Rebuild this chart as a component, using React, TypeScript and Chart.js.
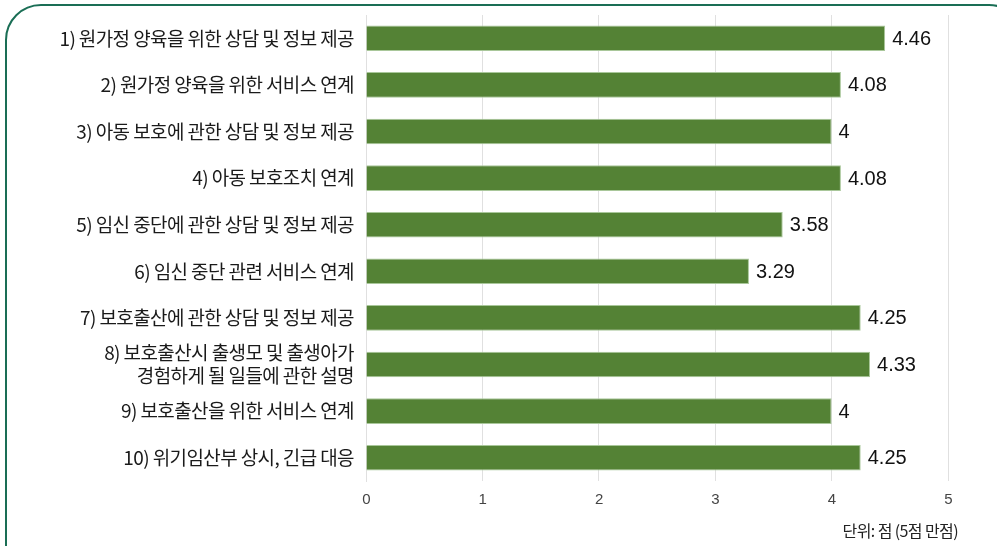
import React, { useEffect, useRef } from "react";
import { Chart, registerables } from "chart.js";

Chart.register(...registerables);

const categories: (string | string[])[] = [
  "1) 원가정 양육을 위한 상담 및 정보 제공",
  "2) 원가정 양육을 위한 서비스 연계",
  "3) 아동 보호에 관한 상담 및 정보 제공",
  "4) 아동 보호조치 연계",
  "5) 임신 중단에 관한 상담 및 정보 제공",
  "6) 임신 중단 관련 서비스 연계",
  "7) 보호출산에 관한 상담 및 정보 제공",
  ["8) 보호출산시 출생모 및 출생아가", "경험하게 될 일들에 관한 설명"],
  "9) 보호출산을 위한 서비스 연계",
  "10) 위기임산부 상시, 긴급 대응",
];
const scores: number[] = [4.46, 4.08, 4, 4.08, 3.58, 3.29, 4.25, 4.33, 4, 4.25];
const xTicks: number[] = [0, 1, 2, 3, 4, 5];
const unitNote = "단위: 점 (5점 만점)";

const spacingPlugin = {
  id: "spacing",
  beforeDraw(chart: any) {
    (chart.ctx as any).letterSpacing = "-0.6px";
  },
  beforeDatasetsDraw(chart: any) {
    (chart.ctx as any).letterSpacing = "0px";
  },
};

const valueLabelPlugin = {
  id: "valueLabels",
  afterDatasetsDraw(chart: any) {
    const ctx = chart.ctx;
    const meta = chart.getDatasetMeta(0);
    ctx.save();
    (ctx as any).letterSpacing = "0px";
    ctx.font = "20px 'Liberation Sans', Arial, sans-serif";
    ctx.fillStyle = "#111";
    ctx.textAlign = "left";
    ctx.textBaseline = "middle";
    meta.data.forEach((bar: any, i: number) => {
      ctx.fillText(String(scores[i]), bar.x + 7, bar.y + 1);
    });
    ctx.restore();
  },
};

export default function App() {
  const ref = useRef<HTMLCanvasElement>(null);
  useEffect(() => {
    if (!ref.current) return;
    const chart = new Chart(ref.current, {
      type: "bar",
      data: {
        labels: categories,
        datasets: [
          {
            data: scores,
            backgroundColor: "#548235",
            borderColor: "#a9c79a",
            borderWidth: 1,
            barPercentage: 0.55,
            categoryPercentage: 1,
          },
        ],
      },
      options: {
        indexAxis: "y",
        responsive: false,
        animation: false,
        layout: { padding: { top: 15, right: 49, bottom: 27, left: 0 } },
        plugins: { legend: { display: false }, tooltip: { enabled: false } },
        scales: {
          x: {
            min: 0,
            max: 5,
            afterBuildTicks: (axis: any) => {
              axis.ticks = xTicks.map((v) => ({ value: v }));
            },
            afterFit: (axis: any) => {
              axis.paddingLeft = 0;
              axis.paddingRight = 0;
            },
            grid: { color: "#e0e0e0", drawTicks: true, tickLength: 0 },
            border: { display: false },
            ticks: {
              color: "#444",
              padding: 10,
              font: { family: "'Liberation Sans', Arial, sans-serif", size: 15 },
            },
          },
          y: {
            grid: { display: false, drawTicks: false, tickLength: 0 },
            border: { display: true, color: "#e0e0e0" },
            afterFit: (axis: any) => {
              axis.width = 366;
              axis.paddingTop = 0;
              axis.paddingBottom = 0;
            },
            ticks: {
              autoSkip: false,
              color: "#1a1a1a",
              padding: 12,
              font: { family: "'Noto Sans CJK KR', sans-serif", size: 19, lineHeight: 1.2 },
            },
          },
        },
      },
      plugins: [spacingPlugin, valueLabelPlugin],
    });
    return () => chart.destroy();
  }, []);

  return (
    <div
      style={{
        position: "fixed",
        left: 0,
        top: 0,
        width: 997,
        height: 546,
        overflow: "hidden",
        background: "#fff",
      }}
    >
      <div
        style={{
          position: "absolute",
          left: 5,
          top: 4,
          width: 1020,
          height: 580,
          border: "2.5px solid #1a6e55",
          borderRadius: 36,
          boxSizing: "border-box",
        }}
      />
      <canvas ref={ref} width={997} height={546} style={{ position: "absolute", left: 0, top: 0 }} />
      <div
        style={{
          position: "absolute",
          right: 39,
          top: 518,
          fontFamily: "'Noto Sans CJK KR', sans-serif",
          fontSize: 16,
          color: "#222",
          letterSpacing: -0.6,
        }}
      >
        {unitNote}
      </div>
    </div>
  );
}
